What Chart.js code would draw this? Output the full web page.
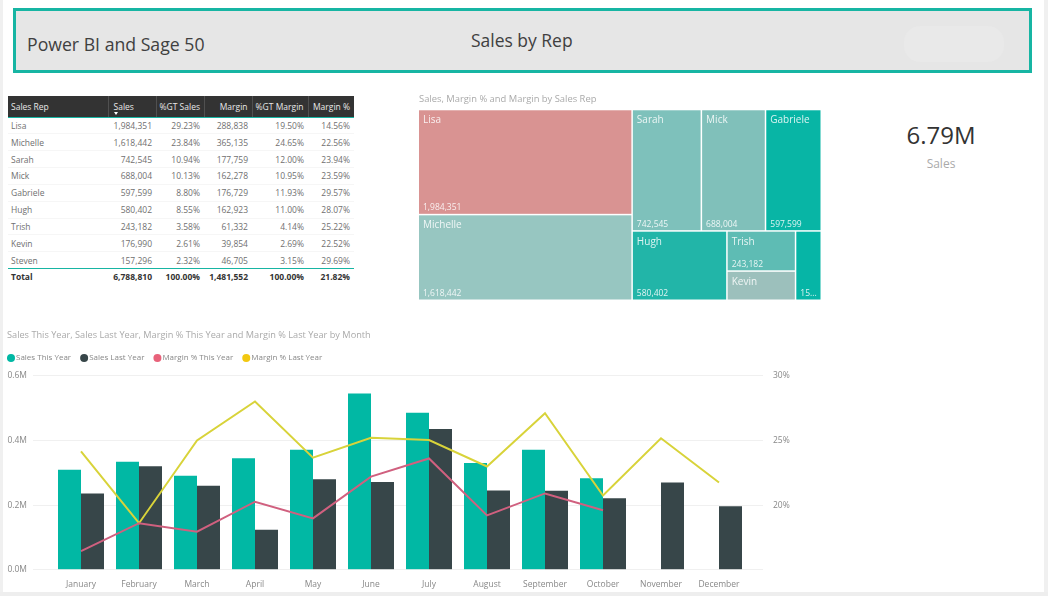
<!DOCTYPE html>
<html>
<head>
<meta charset="utf-8">
<title>Sales by Rep</title>
<script src="https://cdn.jsdelivr.net/npm/chart.js@4"></script>
<style>
  html, body { margin: 0; padding: 0; background: #fff; }
  body { position: relative; width: 1048px; height: 596px; overflow: hidden; font-family: "Open Sans", sans-serif; }
  #edgeLeft { position: absolute; left: 0; top: 0; width: 3px; height: 596px; background: #f0f0f0; }
  #edgeRight { position: absolute; left: 1044px; top: 0; width: 4px; height: 596px; background: #f0f0f0; }
  #edgeBottom { position: absolute; left: 0; top: 592px; width: 1048px; height: 4px; background: #eeeeee; }
  #banner { position: absolute; left: 13px; top: 8px; width: 1013px; height: 59px; border: 3px solid #17b5a3; background: #e6e6e6; }
  #bannerLeft { position: absolute; left: 11px; top: 20px; font-size: 19px; color: #404040; transform: scaleX(0.93); transform-origin: left; white-space: nowrap; }
  #bannerMid { position: absolute; left: 455px; top: 17px; font-size: 18px; color: #404040; transform: scaleX(0.97); transform-origin: left; white-space: nowrap; }
  #bannerBlob { position: absolute; left: 888px; top: 15px; width: 100px; height: 36px; border-radius: 16px; background: #e9e9e9; }
  #repTable { position: absolute; left: 8px; top: 96px; width: 346px; border-collapse: collapse; table-layout: fixed; font-size: 8.5px; color: #707070; }
  #repTable th { position: relative; background: #333333; color: #e8e8e8; font-weight: 400; height: 21px; padding: 0 4px 0 3px; text-align: right; border-bottom: 1px solid #17b5a3; border-right: 1px solid #505050; white-space: nowrap; box-sizing: border-box; }
  #repTable th:last-child { border-right: none; }
  #repTable th:first-child, #repTable td:first-child { text-align: left; }
  #repTable td { height: 16.85px; padding: 0 4px 0 3px; text-align: right; white-space: nowrap; box-sizing: border-box; border-bottom: 1px solid #f6f6f6; }
  #repTable tr:nth-last-child(2) td { border-bottom: 1px solid #17b5a3; }
  #repTable tr.total td { font-weight: 700; color: #333; border-bottom: none; height: 16px; }
  #sortArrow { position: absolute; left: 5px; bottom: 2px; border-left: 2.5px solid transparent; border-right: 2.5px solid transparent; border-top: 3px solid #fff; }
  #kpiValue { position: absolute; left: 841px; width: 200px; top: 118px; text-align: center; font-size: 24px; color: #333; }
  #kpiLabel { position: absolute; left: 841px; width: 200px; top: 155px; text-align: center; font-size: 12px; color: #aaa; }
  canvas { position: absolute; }
</style>
</head>
<body>
<div id="edgeLeft"></div>
<div id="edgeRight"></div>
<div id="edgeBottom"></div>
<div id="banner">
  <div id="bannerLeft">Power BI and Sage 50</div>
  <div id="bannerMid">Sales by Rep</div>
  <div id="bannerBlob"></div>
</div>
<table id="repTable"></table>
<div id="kpiValue">6.79M</div>
<div id="kpiLabel">Sales</div>
<div style="position:absolute;left:419px;top:92px;width:403px;height:210px"><canvas id="treeChart"></canvas></div>
<div style="position:absolute;left:7px;top:329px;width:791px;height:263px"><canvas id="monthChart"></canvas></div>
<script>
const reps = ['Lisa', 'Michelle', 'Sarah', 'Mick', 'Gabriele', 'Hugh', 'Trish', 'Kevin', 'Steven'];
const repSales = [1984351, 1618442, 742545, 688004, 597599, 580402, 243182, 176990, 157296];
const repGtSales = ['29.23%', '23.84%', '10.94%', '10.13%', '8.80%', '8.55%', '3.58%', '2.61%', '2.32%'];
const repMargin = [288838, 365135, 177759, 162278, 176729, 162923, 61332, 39854, 46705];
const repGtMargin = ['19.50%', '24.65%', '12.00%', '10.95%', '11.93%', '11.00%', '4.14%', '2.69%', '3.15%'];
const repMarginPct = ['14.56%', '22.56%', '23.94%', '23.59%', '29.57%', '28.07%', '25.22%', '22.52%', '29.69%'];
const repColors = ['#d99392', '#97c6c1', '#7ec1bb', '#80c0ba', '#08b5a5', '#22b5a8', '#5ebcb4', '#9cc0bc', '#06b5a6'];

const months = ['January', 'February', 'March', 'April', 'May', 'June', 'July', 'August', 'September', 'October', 'November', 'December'];
const salesThisYear = [0.309, 0.334, 0.291, 0.345, 0.371, 0.545, 0.485, 0.330, 0.371, 0.283, null, null];
const salesLastYear = [0.236, 0.320, 0.260, 0.124, 0.280, 0.271, 0.435, 0.245, 0.244, 0.221, 0.270, 0.196];
const marginThisYear = [16.44, 18.6, 17.94, 20.26, 18.97, 22.2, 23.6, 19.2, 20.9, 19.6, null, null];
const marginLastYear = [24.15, 18.6, 25.0, 28.0, 23.66, 25.2, 25.03, 22.98, 27.1, 20.74, 25.16, 21.74];
const legendOrder = ['Sales This Year', 'Sales Last Year', 'Margin % This Year', 'Margin % Last Year'];

const fmt = n => n.toLocaleString('en-US');

// table
const table = document.getElementById('repTable');
const colWidths = [100, 48, 48, 48, 56, 46];
let html = '<colgroup>' + colWidths.map(w => '<col style="width:' + w + 'px">').join('') + '</colgroup>';
html += '<tr><th>Sales Rep</th><th style="text-align:left;padding-left:5px">Sales<span id="sortArrow"></span></th><th>%GT Sales</th><th>Margin</th><th>%GT Margin</th><th>Margin %</th></tr>';
reps.forEach((r, i) => {
  html += '<tr><td>' + r + '</td><td>' + fmt(repSales[i]) + '</td><td>' + repGtSales[i] + '</td><td>' + fmt(repMargin[i]) + '</td><td>' + repGtMargin[i] + '</td><td>' + repMarginPct[i] + '</td></tr>';
});
html += '<tr class="total"><td>Total</td><td>6,788,810</td><td>100.00%</td><td>1,481,552</td><td>100.00%</td><td>21.82%</td></tr>';
table.innerHTML = html;

// treemap layout comes from the sales values, on 0..1 axes
function treeRects() {
  const sum = idx => idx.reduce((a, i) => a + repSales[i], 0);
  const total = sum([0, 1, 2, 3, 4, 5, 6, 7, 8]);
  const rects = [];
  const leftW = sum([0, 1]) / total;
  const lisaH = sum([0]) / sum([0, 1]);
  rects[0] = [0, leftW, 0, lisaH];
  rects[1] = [0, leftW, lisaH, 1];
  const rightW = 1 - leftW;
  const topH = sum([2, 3, 4]) / sum([2, 3, 4, 5, 6, 7, 8]);
  let x = leftW;
  [2, 3, 4].forEach(i => {
    const w = rightW * repSales[i] / sum([2, 3, 4]);
    rects[i] = [x, x + w, 0, topH];
    x += w;
  });
  const bottom = sum([5, 6, 7, 8]);
  const hughW = rightW * repSales[5] / bottom;
  const midW = rightW * sum([6, 7]) / bottom;
  const x1 = leftW + hughW, x2 = x1 + midW;
  const trishH = topH + (1 - topH) * repSales[6] / sum([6, 7]);
  rects[5] = [leftW, x1, topH, 1];
  rects[6] = [x1, x2, topH, trishH];
  rects[7] = [x1, x2, trishH, 1];
  rects[8] = [x2, 1, topH, 1];
  return rects;
}

const treePlugin = {
  id: 'treeCells',
  afterDatasetsDraw(chart) {
    const { ctx, scales } = chart;
    ctx.save();
    treeRects().forEach((r, i) => {
      const left = scales.x.getPixelForValue(r[0]);
      const right = scales.x.getPixelForValue(r[1]);
      const top = scales.y.getPixelForValue(r[2]);
      const bot = scales.y.getPixelForValue(r[3]);
      ctx.fillStyle = repColors[i];
      ctx.fillRect(left, top, right - left - 1.5, bot - top - 1.5);
      ctx.fillStyle = 'rgba(255,255,255,0.85)';
      ctx.textBaseline = 'alphabetic';
      const w = right - left;
      if (w > 40) {
        ctx.font = '10px "Open Sans"';
        ctx.fillText(reps[i], left + 4, top + 13);
      }
      ctx.font = '8.5px "Open Sans"';
      if (bot - top > 36) {
        ctx.fillText(w > 40 ? fmt(repSales[i]) : String(repSales[i]).slice(0, 2) + '...', left + 4, bot - 5);
      }
    });
    ctx.restore();
  }
};

new Chart(document.getElementById('treeChart'), {
  type: 'scatter',
  data: { datasets: [{ data: [] }] },
  plugins: [treePlugin],
  options: {
    responsive: true,
    maintainAspectRatio: false,
    animation: false,
    layout: { padding: { bottom: 1 } },
    plugins: {
      legend: { display: false },
      tooltip: { enabled: false },
      title: {
        display: true,
        text: 'Sales, Margin % and Margin by Sales Rep',
        align: 'start',
        color: '#aaaaaa',
        font: { family: 'Open Sans', size: 9.4, weight: 'normal' },
        padding: { top: 2, bottom: 5 }
      }
    },
    scales: {
      x: { display: false, min: 0, max: 1 },
      y: { display: false, min: 0, max: 1, reverse: true }
    }
  }
});

// legend sits further left and leaves more room under it than chart.js does by itself
const legendFit = {
  id: 'legendFit',
  beforeInit(chart) {
    const fit = chart.legend.fit;
    chart.legend.fit = function () {
      fit.call(this);
      this.height = 33.6;
    };
  },
  beforeDraw(chart) {
    chart.legend.left = -9;
  }
};

// bars + margin lines
const tickFont = { family: 'Open Sans', size: 8.5 };
new Chart(document.getElementById('monthChart'), {
  data: {
    labels: months,
    datasets: [
      { type: 'line', label: 'Margin % This Year', data: marginThisYear, yAxisID: 'y1', borderColor: '#d0607f', backgroundColor: '#e8627a', borderWidth: 2, pointRadius: 0, tension: 0, order: 1 },
      { type: 'line', label: 'Margin % Last Year', data: marginLastYear, yAxisID: 'y1', borderColor: '#d8d33a', backgroundColor: '#f2c811', borderWidth: 2, pointRadius: 0, tension: 0, order: 1 },
      { type: 'bar', label: 'Sales This Year', data: salesThisYear, yAxisID: 'y', backgroundColor: '#01b8a4', order: 2 },
      { type: 'bar', label: 'Sales Last Year', data: salesLastYear, yAxisID: 'y', backgroundColor: '#374649', order: 2 }
    ]
  },
  plugins: [legendFit],
  options: {
    responsive: true,
    maintainAspectRatio: false,
    animation: false,
    datasets: { bar: { categoryPercentage: 0.793, barPercentage: 1 } },
    plugins: {
      tooltip: { enabled: false },
      title: {
        display: true,
        text: 'Sales This Year, Sales Last Year, Margin % This Year and Margin % Last Year by Month',
        align: 'start',
        color: '#aaaaaa',
        font: { family: 'Open Sans', size: 9.2, weight: 'normal' },
        padding: { top: 1, bottom: 1 }
      },
      legend: {
        position: 'top',
        align: 'start',
        labels: {
          usePointStyle: true,
          pointStyle: 'circle',
          boxWidth: 2,
          boxHeight: 5.66,
          padding: 12,
          color: '#888888',
          font: { family: 'Open Sans', size: 8 },
          generateLabels(chart) {
            const items = Chart.defaults.plugins.legend.labels.generateLabels(chart);
            items.forEach(i => { i.lineWidth = 0; });
            return items;
          },
          sort: (a, b) => legendOrder.indexOf(a.text) - legendOrder.indexOf(b.text)
        }
      }
    },
    scales: {
      x: {
        grid: { display: false },
        border: { display: false },
        ticks: { color: '#888888', font: tickFont, maxRotation: 0, autoSkip: false, padding: 2 }
      },
      y: {
        min: 0,
        max: 0.6,
        afterFit: s => { s.width = 45; },
        border: { display: false },
        grid: { color: '#f0f0f0', tickLength: 19, tickColor: '#f0f0f0' },
        ticks: { stepSize: 0.2, color: '#888888', font: tickFont, padding: 6, callback: v => v.toFixed(1) + 'M' }
      },
      y1: {
        position: 'right',
        min: 15,
        max: 30,
        afterFit: s => { s.width = 50; },
        border: { display: false },
        grid: { drawOnChartArea: false, tickLength: 15, tickColor: '#f0f0f0' },
        ticks: { stepSize: 5, color: '#888888', font: tickFont, padding: 10, callback: v => (v === 15 ? '' : v + '%') }
      }
    }
  }
});
</script>
</body>
</html>
